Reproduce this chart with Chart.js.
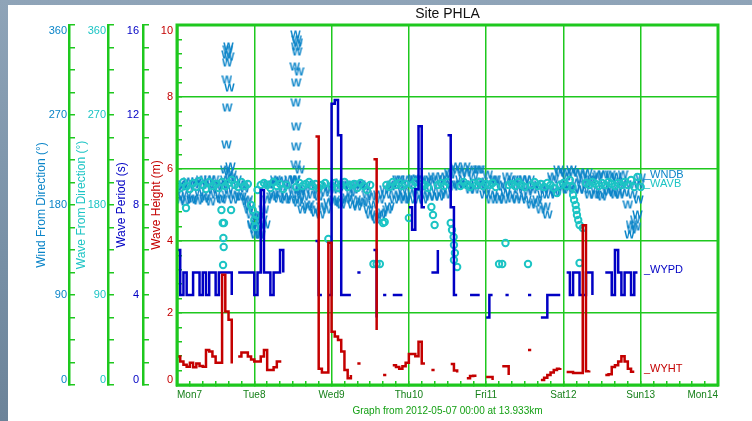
<!DOCTYPE html>
<html>
<head>
<meta charset="utf-8">
<script src="https://cdn.jsdelivr.net/npm/chart.js@4.4.0/dist/chart.umd.min.js"></script>
<style>
  html, body { margin: 0; padding: 0; }
  body { width: 752px; height: 421px; position: relative; overflow: hidden;
         background: linear-gradient(180deg, #8fa4b8 0%, #7890a6 60%, #6c8399 100%); }
  #panel { position: absolute; left: 8px; top: 5px; right: 0; bottom: 0; background: #fff; }
  #chart { position: absolute; left: 0; top: 0; }
</style>
</head>
<body>
<div id="panel"></div>
<canvas id="chart" width="752" height="421"></canvas>
<script>
// day labels on the time axis (one every 24 h, starting Mon 7 May 2012 00:00)
var dayLabels = ['Mon7', 'Tue8', 'Wed9', 'Thu10', 'Fri11', 'Sat12', 'Sun13', 'Mon14'];

// hourly values, index = hours since 2012-05-07 00:00 (null = no data)
var heightM = [
  0.79, 0.65, 0.56, 0.51, 0.62, 0.49, 0.60, 0.53, 0.51, 0.97,
  0.93, 0.79, 0.62, 0.62, 3.06, 2.04, 1.81, 0.60, null, 0.79,
  0.90, 0.90, 0.79, 0.71, 0.65, 0.65, 0.79, 0.97, 0.42, 0.42,
  0.49, 0.65, 0.69, null, null, null, null, null, null, null,
  null, null, null, 6.90, 0.45, 0.35, 0.35, 3.95, 1.48, 1.35,
  1.25, 0.93, 0.42, 0.19, 0.28, null, 0.60, 0.60, null, null,
  null, 6.27, 1.53, null, 0.28, 0.28, null, 0.55, 0.50, 0.45,
  0.52, 0.62, 0.86, 0.86, 0.80, 1.20, 0.60, 0.60, null, 0.42,
  0.42, null, null, null, null, 0.58, 0.40, 0.35, null, null,
  0.19, 0.25, 0.26, 0.26, null, null, 0.22, 0.22, 0.14, null,
  null, 0.52, 0.52, 0.28, null, null, null, null, null, 0.97,
  0.97, null, null, 0.14, 0.20, 0.28, 0.35, 0.42, 0.45, 0.47,
  null, 0.36, 0.36, 0.33, 0.33, 0.33, 4.44, 0.38, 0.40, null,
  null, null, null, 0.28, 0.30, 0.50, 0.55, 0.65, 0.80, 0.65,
  0.45, 0.37, 0.37, null, null
];

var periodS = [
  6.0, 4.0, 5.0, 4.0, 4.0, 5.0, 5.0, 4.0, 5.0, 4.0,
  5.0, 5.0, 4.0, 5.0, 5.0, 5.0, 5.0, 4.0, null, 5.0,
  5.0, 5.0, 5.0, 5.0, 4.0, 5.0, 8.67, 5.0, 5.0, 4.0,
  5.0, 5.0, 6.0, 5.0, null, null, null, null, null, null,
  null, null, null, 6.4, 4.0, 4.0, null, 4.0, 12.5, 12.67,
  11.1, 4.0, 4.0, 4.0, 4.0, null, 5.0, 5.0, null, null,
  null, 6.0, 3.0, null, 4.0, 4.0, null, 4.0, 4.0, 4.0,
  4.0, null, 7.9, 6.9, 8.7, 11.5, 7.9, 7.9, null, 5.0,
  5.0, 6.0, null, null, 11.1, 7.9, 4.0, 4.0, null, null,
  null, 4.0, 4.0, 4.0, 4.0, null, 3.0, 4.0, 4.0, null,
  null, null, 4.0, 4.0, null, null, null, null, null, 4.0,
  4.0, null, null, 3.0, 3.0, 4.0, 4.0, 4.0, 4.0, 4.0,
  null, 5.0, 4.0, 5.0, 5.0, 4.0, 4.0, 5.0, 5.0, 4.0,
  null, null, null, 5.0, 5.0, 4.0, 6.0, 5.0, 4.0, 5.0,
  5.0, 4.0, 5.0, 5.0, null
];

// wind direction on the hour ...
var windDeg = [
  195, 185, 200, 190, 198, 186, 203, 192, 200, 188,
  205, 195, 190, 200, 185, 205, 195, 210, 190, 200,
  188, 196, 185, 170, 155, 160, 150, 175, 185, 200,
  190, 203, 192, 198, 188, 205, 195, 190, 185, 175,
  195, 180, 190, 172, 188, 178, 192, 182, 200, 185,
  195, 180, 198, 187, 192, 195, 178, 200, 182, 190,
  170, 180, 165, 185, 172, 190, 178, 200, 190, 205,
  195, 188, 200, 192, 205, 185, 198, 190, 203, 195,
  188, 200, 192, 205, 196, 210, 198, 215, 205, 200,
  212, 195, 208, 200, 215, 203, 195, 200, 190, 205,
  185, 198, 192, 203, 186, 200, 195, 188, 205, 193,
  180, 198, 185, 175, 195, 170, 190, 205, 195, 212,
  200, 208, 198, 212, 202, 195, 210, 200, 190, 205,
  195, 210, 188, 200, 193, 207, 190, 198, 203, 192,
  180, 160, 200, 170, 207
];

// ... and on the half hour (index = hour, time = index + 0.5)
var windDegHalf = [
  188, 198, 183, 203, 185, 200, 184, 205, 186, 200,
  183, 205, 198, 186, 200, 190, 207, 185, 205, 188,
  200, 183, 178, 160, 168, 150, 165, 160, 200, 188,
  205, 186, 204, 185, 200, 185, 205, 182, 195, 188,
  178, 200, 175, 195, 170, 198, 175, 195, 183, 202,
  182, 200, 185, 200, 180, 185, 200, 183, 198, 175,
  188, 168, 190, 170, 195, 175, 198, 185, 205, 188,
  185, 205, 185, 206, 190, 205, 185, 205, 188, 208,
  205, 188, 208, 190, 212, 200, 218, 200, 212, 218,
  200, 215, 195, 215, 200, 190, 210, 185, 205, 188,
  200, 185, 208, 190, 205, 185, 205, 198, 185, 205,
  195, 182, 200, 190, 178, 195, 208, 192, 215, 195,
  212, 195, 215, 195, 212, 205, 195, 212, 205, 190,
  208, 190, 210, 195, 210, 192, 208, 190, 210, 200,
  150, 190, 158, 200
];

var waveDeg = [
  200, 197, 203, 199, 196, 202, 198, 204, 200, 196,
  203, 199, 201, 197, 203, 199, 202, 205, 200, 198,
  203, 199, 201, 180, 165, 195, 200, 202, 200, 197,
  203, 199, 201, 196, 200, null, null, 198, 202, 199,
  201, 203, 199, 201, 197, 200, 202, 146, 199, 202,
  197, 200, 203, 198, 200, 201, 197, 202, 199, 195,
  200, 121, 121, 121, 162, 200, 198, 203, 200, 202,
  199, 201, 167, 200, 203, 198, 201, 200, 197, 178,
  160, 200, 202, 199, 203, 162, 140, 118, 199, 203,
  200, 198, 202, 200, 203, 199, 201, 200, 202, 198,
  121, 121, 142, 200, 201, 199, 203, 200, 198, 121,
  200, 203, 199, 201, 198, 202, 200, 197, 192, 200,
  202, 199, 205, 190, 175, 122, 157, 202, 200, 203,
  201, 199, 202, 200, 203, 201, 199, 202, 200, 203,
  200, 205, 198, 208, 198
];

// extra (sub-hourly) direction readings where the plot scatters
var windExtraHour = [15.4, 15.8, 16.2, 15.6, 16.0, 15.5, 16.3, 15.6, 15.4, 16.0, 15.0, 16.6,
                     36.8, 37.2, 37.0, 37.5, 37.3, 36.6, 37.9, 37.0, 36.9, 37.0, 37.0, 36.9, 38.1, 36.8, 38.4,
                     22.3, 23.3, 24.3, 25.3, 26.3, 141.3, 142.3, 143.3];
var windExtraDeg  = [330, 335, 328, 322, 338, 305, 297, 277, 240, 213, 215, 218,
                     350, 345, 338, 342, 333, 318, 313, 302, 282, 258, 238, 220, 215, 205, 193,
                     175, 160, 150, 168, 158, 155, 165, 185];
var waveExtraHour = [2.8, 13.8, 14.2, 14.6, 14.4, 14.5, 14.3, 16.8, 23.5, 24.3, 24.7, 64.5, 79.5,
                     85.4, 85.9, 86.3, 86.0, 122.8, 123.3, 123.8, 124.2, 124.6, 125.0];
var waveExtraDeg  = [177, 175, 162, 162, 147, 138, 120, 175, 175, 158, 170, 163, 170,
                     155, 148, 132, 125, 198, 185, 180, 170, 165, 160];

var GREEN = '#1ec81e';
var WIND_C = '#0a84c8';
var WAVE_C = '#1cc4c4';
var PER_C = '#0000c4';
var HT_C = '#c40000';
var NONE = 'rgba(0,0,0,0)';
var FONT = 'Liberation Sans, Arial, sans-serif';

Chart.defaults.font.family = FONT;

function hourly(arr) {
  return arr.map(function(v, i) { return {x: i, y: v}; });
}

function scatterPoints(arr, offset, pts) {
  pts = pts || [];
  arr.forEach(function(v, i) { if (v !== null) pts.push({x: i + offset, y: v}); });
  return pts;
}

function extraPoints(hours, vals, pts) {
  hours.forEach(function(h, k) { pts.push({x: h, y: vals[k]}); });
  return pts;
}

function steps(max, step) {
  var out = [];
  for (var i = 0; i * step <= max + 1e-9; i++) out.push(Math.round(i * step * 100) / 100);
  return out;
}

// small canvas with a "W" used as the wind marker
function glyph(ch, color, size, weight) {
  var c = document.createElement('canvas');
  c.width = size; c.height = size;
  var g = c.getContext('2d');
  g.fillStyle = color;
  g.font = weight + ' ' + size + 'px ' + FONT;
  g.textAlign = 'center';
  g.textBaseline = 'middle';
  g.fillText(ch, size / 2, size / 2 + 0.5);
  return c;
}

// one of the stacked left axes
function sideAxis(o) {
  return {
    type: 'linear', position: 'left', weight: o.weight, min: 0, max: o.max,
    afterBuildTicks: function(s) { s.ticks = steps(o.max, o.step).map(function(v) { return {value: v}; }); },
    afterFit: function(s) { s.width = o.width; },
    border: { display: true, color: GREEN, width: 2.5 },
    grid: {
      display: true,
      drawOnChartArea: !!o.grid,
      color: function(ctx) {
        var v = ctx.tick ? ctx.tick.value : 0;
        return (o.grid && v > 0 && v < o.max && v % o.labelStep === 0) ? GREEN : NONE;
      },
      lineWidth: 1.5,
      tickColor: GREEN, tickWidth: 1.5, tickLength: -o.tick
    },
    ticks: {
      autoSkip: false,
      color: o.color, padding: o.pad, font: { size: 11, lineHeight: 1 },
      callback: function(v) {
        if (v % o.labelStep !== 0) return '';
        if (v === o.max) return ['', String(v)];
        if (v === 0) return [String(v), ''];
        return String(v);
      }
    },
    title: { display: true, text: o.title, color: o.color, font: { size: 12 }, padding: { top: o.tpad, bottom: 0 } }
  };
}

// frame, title and the series tags at the right end
var decor = {
  id: 'decor',
  afterDraw: function(chart) {
    var ctx = chart.ctx, a = chart.chartArea, x = chart.scales.x;
    ctx.save();
    ctx.strokeStyle = GREEN;
    ctx.lineWidth = 3;
    ctx.strokeRect(a.left, a.top, a.right - a.left, a.bottom - a.top);

    ctx.fillStyle = '#111';
    ctx.font = '14px ' + FONT;
    ctx.textAlign = 'center';
    ctx.textBaseline = 'middle';
    ctx.fillText('Site PHLA', (a.left + a.right) / 2, 14);

    var tags = [
      {text: '_WNDB', data: windDeg, axis: 'yWind', color: WIND_C},
      {text: '_WAVB', data: waveDeg, axis: 'yWave', color: WAVE_C},
      {text: '_WYPD', data: periodS, axis: 'yPer', color: PER_C},
      {text: '_WYHT', data: heightM, axis: 'yHt', color: HT_C}
    ];
    ctx.font = '11px ' + FONT;
    ctx.textAlign = 'left';
    ctx.textBaseline = 'alphabetic';
    tags.forEach(function(t) {
      var last = null;
      t.data.forEach(function(v) { if (v !== null) last = v; });
      ctx.fillStyle = t.color;
      ctx.fillText(t.text, x.getPixelForValue(145), chart.scales[t.axis].getPixelForValue(last));
    });
    ctx.restore();
  }
};

var windPoints = extraPoints(windExtraHour, windExtraDeg, scatterPoints(windDegHalf, 0.5, scatterPoints(windDeg, 0)));
var wavePoints = extraPoints(waveExtraHour, waveExtraDeg, scatterPoints(waveDeg, 0));

new Chart(document.getElementById('chart').getContext('2d'), {
  type: 'line',
  data: {
    datasets: [
      { label: 'WYHT', data: hourly(heightM), yAxisID: 'yHt', borderColor: HT_C, borderWidth: 2.5,
        stepped: true, spanGaps: false, pointRadius: 0, fill: false, order: 1 },
      { label: 'WYPD', data: hourly(periodS), yAxisID: 'yPer', borderColor: PER_C, borderWidth: 2.5,
        stepped: true, spanGaps: false, pointRadius: 0, fill: false, order: 2 },
      { label: 'WAVB', type: 'scatter', data: wavePoints, yAxisID: 'yWave',
        pointStyle: 'circle', pointRadius: 3.2, borderWidth: 2, borderColor: WAVE_C, backgroundColor: NONE, order: 3 },
      { label: 'WNDB', type: 'scatter', data: windPoints, yAxisID: 'yWind',
        pointStyle: glyph('W', WIND_C, 11, 'bold'), pointRadius: 3, order: 4 }
    ]
  },
  options: {
    responsive: false,
    animation: false,
    events: [],
    layout: { padding: { left: 34, right: 34, top: 25, bottom: 0 } },
    plugins: { legend: { display: false }, tooltip: { enabled: false }, title: { display: false } },
    scales: {
      x: {
        type: 'linear', min: 0, max: 168,
        afterBuildTicks: function(s) { s.ticks = steps(168, 4).map(function(v) { return {value: v}; }); },
        afterFit: function(s) { s.height = 36; },
        border: { display: true, color: GREEN, width: 2.5 },
        grid: {
          color: function(ctx) { return ctx.tick && ctx.tick.value % 24 === 0 ? GREEN : NONE; },
          lineWidth: 1.5, tickColor: GREEN, tickWidth: 1.5, tickLength: -4
        },
        ticks: {
          autoSkip: false, maxRotation: 0, minRotation: 0, align: 'inner', padding: 8,
          color: '#16801a', font: { size: 10 },
          callback: function(v) { return v % 24 === 0 ? dayLabels[v / 24] : ''; }
        },
        title: { display: true, text: 'Graph from 2012-05-07 00:00 at 13.933km', color: '#14a014',
                 font: { size: 10 }, padding: { top: 0, bottom: 4 } }
      },
      yHt: sideAxis({ weight: 0, max: 10, step: 0.4, labelStep: 2, width: 34, tick: 5, pad: 9, tpad: 6,
                      grid: true, color: HT_C, title: 'Wave Height (m)' }),
      yPer: sideAxis({ weight: 1, max: 16, step: 1, labelStep: 4, width: 35, tick: 6, pad: 10, tpad: 6,
                       color: PER_C, title: 'Wave Period (s)' }),
      yWave: sideAxis({ weight: 2, max: 360, step: 22.5, labelStep: 90, width: 39, tick: 6, pad: 8, tpad: 5,
                        color: WAVE_C, title: 'Wave From Direction (\u00b0)' }),
      yWind: sideAxis({ weight: 3, max: 360, step: 22.5, labelStep: 90, width: 35, tick: 6, pad: 8, tpad: 0,
                        color: WIND_C, title: 'Wind From Direction (\u00b0)' })
    }
  },
  plugins: [decor]
});
</script>
</body>
</html>
